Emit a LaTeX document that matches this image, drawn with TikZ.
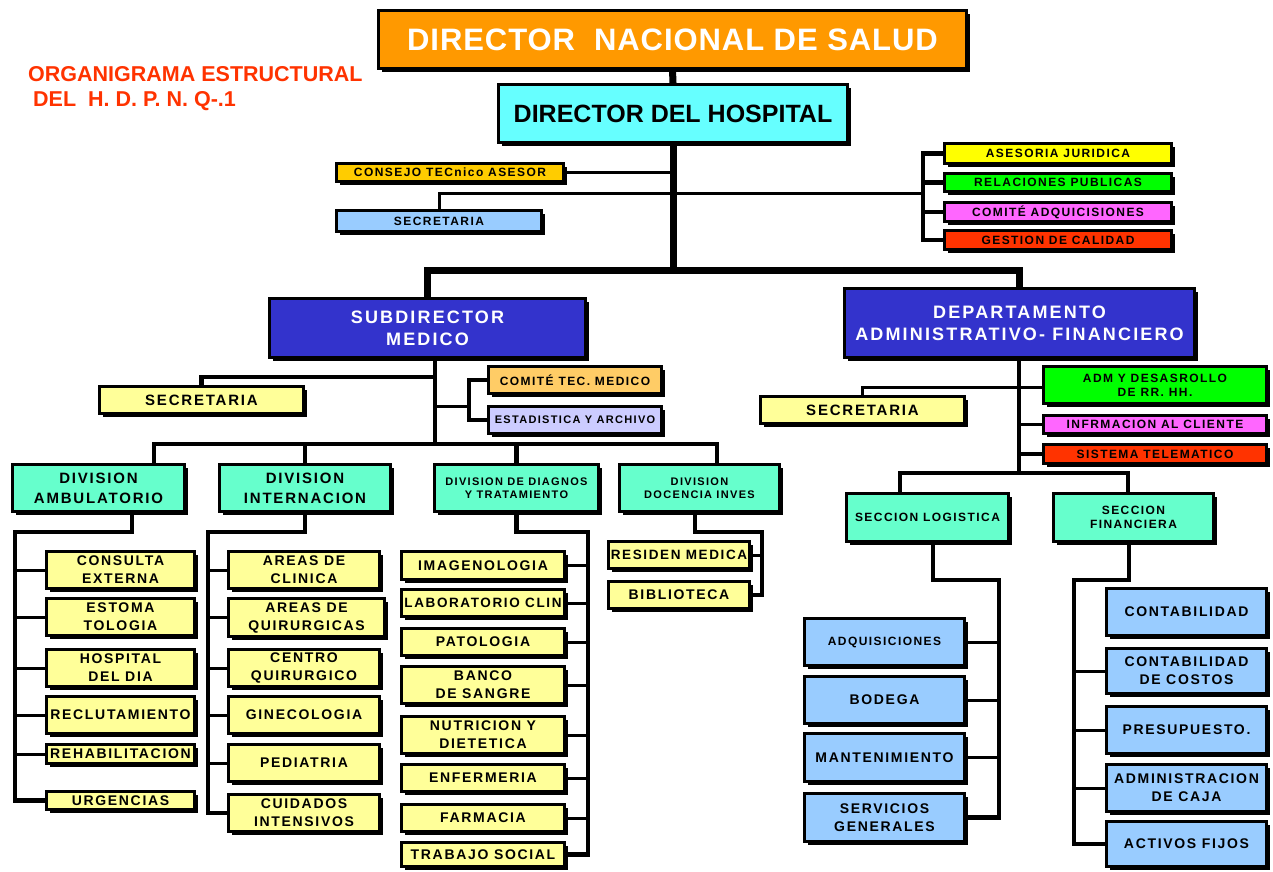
\documentclass[tikz,border=0pt]{standalone}
\usepackage{fontspec}
\setmainfont{Liberation Sans}
\newfontfamily\spf{Liberation Sans}[LetterSpace=12]
\newfontfamily\dnsf{Liberation Sans}[LetterSpace=3]
\usetikzlibrary{shadows}
\definecolor{cOrange}{HTML}{FF9900}
\definecolor{cCyan}{HTML}{66FFFF}
\definecolor{cGold}{HTML}{FFCC00}
\definecolor{cLblue}{HTML}{99CCFF}
\definecolor{cYellow}{HTML}{FFFF00}
\definecolor{cGreen}{HTML}{00FF00}
\definecolor{cMag}{HTML}{FF66FF}
\definecolor{cRed}{HTML}{FF3300}
\definecolor{cBlue}{HTML}{3333CC}
\definecolor{cLyellow}{HTML}{FFFF99}
\definecolor{cLorange}{HTML}{FFCC66}
\definecolor{cLav}{HTML}{CCCCFF}
\definecolor{cMint}{HTML}{66FFCC}
\definecolor{cTitle}{HTML}{FF3300}
\newcommand\sfz[2]{\spf\bfseries\fontsize{#1}{#2}\selectfont}
\newcommand\bx[7]{\node[bx,#6,minimum width={#4-#2-6},minimum height={#5-#3-6}] (#1) at ({(#2+#4)/2-1.5},{(#3+#5)/2-1.5}) {#7};}
\tikzset{
  bx/.style={draw=black, line width=3pt, inner sep=1pt, align=center, text=black,
    drop shadow={shadow xshift=3pt, shadow yshift=-3pt, fill=black, opacity=1}},
  heavy/.style={line width=7pt},
  conn/.style={line width=4.5pt},
  thinc/.style={line width=3pt},
  f11/.style={font=\sfz{11}{13}},
  f12/.style={font=\sfz{12}{14}},
  f14/.style={font=\sfz{14}{18}},
  f15/.style={font=\sfz{15}{20}},
  f18/.style={font=\sfz{18}{22}},
  ylw/.style={fill=cLyellow, f14},
  blu/.style={fill=cLblue, f14},
}
\begin{document}
\begin{tikzpicture}[x=1pt,y=-1pt]
\useasboundingbox[fill=white] (0,0) rectangle (1273,871);

% title
\node[anchor=north west, align=left, text=cTitle, inner sep=0pt,
  font=\bfseries\fontsize{21.5}{26}\selectfont] (title) at (28,66)
  {ORGANIGRAMA ESTRUCTURAL\\[-1pt]\hspace*{5pt}DEL\ \ H. D. P. N. Q-.1};

% top level
\bx{dns}{377}{9}{971}{73}{fill=cOrange, text=white, font=\dnsf\bfseries\fontsize{31}{34}\selectfont}{DIRECTOR\ \ NACIONAL DE SALUD}
\bx{dh}{497}{83}{852}{147}{fill=cCyan, font=\bfseries\fontsize{25}{28}\selectfont}{DIRECTOR DEL HOSPITAL}
\bx{cta}{335}{162}{568}{186}{fill=cGold, f12}{CONSEJO TECnico ASESOR}
\bx{sec1}{335}{209}{546}{236}{fill=cLblue, f12}{SECRETARIA}
\bx{aj}{943}{142}{1176}{168}{fill=cYellow, f12}{ASESORIA JURIDICA}
\bx{rp}{943}{172}{1176}{196}{fill=cGreen, f12}{RELACIONES PUBLICAS}
\bx{ca}{943}{201}{1176}{226}{fill=cMag, f12}{COMITÉ ADQUICISIONES}
\bx{gc}{943}{229}{1176}{254}{fill=cRed, f12}{GESTION DE CALIDAD}

% second level
\bx{sm}{268}{297}{590}{362}{fill=cBlue, text=white, f18}{SUBDIRECTOR\\MEDICO}
\bx{daf}{843}{287}{1199}{362}{fill=cBlue, text=white, f18}{DEPARTAMENTO\\ADMINISTRATIVO- FINANCIERO}

\bx{sec2}{98}{385}{308}{418}{fill=cLyellow, f15}{SECRETARIA}
\bx{ctm}{487}{365}{666}{398}{fill=cLorange, f12}{COMITÉ TEC. MEDICO}
\bx{eya}{487}{405}{666}{438}{fill=cLav, f11}{ESTADISTICA Y ARCHIVO}
\bx{sec3}{759}{395}{969}{428}{fill=cLyellow, f15}{SECRETARIA}
\bx{adm}{1042}{365}{1271}{408}{fill=cGreen, f12}{ADM Y DESASROLLO\\DE RR. HH.}
\bx{ic}{1042}{414}{1271}{438}{fill=cMag, f12}{INFRMACION AL CLIENTE}
\bx{st}{1042}{443}{1271}{468}{fill=cRed, f12}{SISTEMA TELEMATICO}

% divisions
\bx{da}{11}{463}{189}{516}{fill=cMint, f15}{DIVISION\\AMBULATORIO}
\bx{di}{218}{463}{395}{516}{fill=cMint, f15}{DIVISION\\INTERNACION}
\bx{ddt}{433}{463}{603}{516}{fill=cMint, f11}{DIVISION DE DIAGNOS\\Y TRATAMIENTO}
\bx{ddi}{618}{463}{784}{516}{fill=cMint, f11}{DIVISION\\DOCENCIA INVES}
\bx{sl}{845}{492}{1013}{546}{fill=cMint, f12}{SECCION LOGISTICA}
\bx{sf}{1052}{492}{1218}{546}{fill=cMint, f12}{SECCION\\FINANCIERA}

% ambulatorio children
\bx{ce}{45}{550}{199}{593}{ylw}{CONSULTA\\EXTERNA}
\bx{et}{45}{597}{199}{640}{ylw}{ESTOMA\\TOLOGIA}
\bx{hd}{45}{648}{199}{691}{ylw}{HOSPITAL\\DEL DIA}
\bx{re}{45}{695}{199}{738}{ylw}{RECLUTAMIENTO}
\bx{rh}{45}{743}{199}{768}{ylw}{REHABILITACION}
\bx{ur}{45}{790}{199}{814}{ylw}{URGENCIAS}

% internacion children
\bx{ac}{227}{550}{384}{593}{ylw}{AREAS DE\\CLINICA}
\bx{aq}{227}{597}{389}{641}{ylw}{AREAS DE\\QUIRURGICAS}
\bx{cq}{227}{648}{384}{691}{ylw}{CENTRO\\QUIRURGICO}
\bx{gi}{227}{695}{384}{738}{ylw}{GINECOLOGIA}
\bx{pe}{227}{743}{384}{786}{ylw}{PEDIATRIA}
\bx{ci}{227}{793}{384}{836}{ylw}{CUIDADOS\\INTENSIVOS}

% diagnostico children
\bx{im}{400}{550}{569}{584}{ylw}{IMAGENOLOGIA}
\bx{lc}{400}{588}{569}{621}{ylw, font=\sfz{13.5}{16}}{LABORATORIO CLIN}
\bx{pa}{400}{627}{569}{660}{ylw}{PATOLOGIA}
\bx{bs}{400}{665}{569}{708}{ylw}{BANCO\\DE SANGRE}
\bx{nd}{400}{715}{569}{758}{ylw}{NUTRICION Y\\DIETETICA}
\bx{en}{400}{763}{569}{796}{ylw}{ENFERMERIA}
\bx{fa}{400}{803}{569}{836}{ylw}{FARMACIA}
\bx{ts}{400}{841}{569}{871}{ylw}{TRABAJO SOCIAL}

% docencia children
\bx{rm}{607}{540}{754}{573}{ylw, font=\sfz{13.5}{16}}{RESIDEN MEDICA}
\bx{bi}{607}{580}{754}{613}{ylw}{BIBLIOTECA}

% logistica children
\bx{ad}{803}{617}{969}{670}{fill=cLblue, f12}{ADQUISICIONES}
\bx{bo}{803}{675}{969}{728}{blu}{BODEGA}
\bx{ma}{803}{732}{969}{786}{blu}{MANTENIMIENTO}
\bx{sg}{803}{792}{969}{846}{blu}{SERVICIOS\\GENERALES}

% financiera children
\bx{co}{1105}{587}{1271}{640}{blu}{CONTABILIDAD}
\bx{cc}{1105}{647}{1271}{698}{blu}{CONTABILIDAD\\DE COSTOS}
\bx{pr}{1105}{705}{1271}{758}{blu}{PRESUPUESTO.}
\bx{acj}{1105}{763}{1271}{816}{blu}{ADMINISTRACION\\DE CAJA}
\bx{af}{1105}{820}{1271}{871}{blu}{ACTIVOS FIJOS}

% ---------- connectors ----------
\coordinate (t1) at (673,270);
\coordinate (t3) at (673,193);
\coordinate (rb) at (923,193);
\draw[heavy] (dns.south) -- (dh.north);
\draw[heavy] (dh.south) -- (t1);
\draw[heavy] (sm.north) |- (t1) -| (daf.north);
\draw[thinc] (cta.east) -- (cta.east -| t1);
\draw[thinc] (sec1.north) |- (t3);
\draw[thinc] (t3) -- (rb);
\draw[conn] (aj.west) -| (rb) |- (gc.west);
\draw[conn] (rp.west) -- (rp.west -| rb);
\draw[conn] (ca.west) -- (ca.west -| rb);

% subdirector medico
\coordinate (s0) at (435,444);
\coordinate (s1) at (435,377);
\coordinate (s2) at (435,406);
\coordinate (sb) at (469,406);
\coordinate (s3) at (154,444);
\coordinate (s4) at (717,444);
\draw[conn] (sm.south -| s0) -- (s0);
\draw[conn] (sec2.north) |- (s1);
\draw[thinc] (s2) -- (sb);
\draw[conn] (ctm.west) -| (sb) |- (eya.west);
\draw[conn] (s3 |- da.north) -- (s3) -- (s4) -- (s4 |- ddi.north);
\draw[conn] (di.north) -- (di.north |- s0);
\draw[conn] (ddt.north) -- (ddt.north |- s0);

% ambulatorio
\coordinate (a1) at (132,532);
\coordinate (a2) at (15,532);
\draw[conn] (da.south -| a1) -- (a1) -- (a2) |- (ur.west);
\foreach \n in {ce,et,hd,re,rh} \draw[thinc] (\n.west) -- (\n.west -| a2);

% internacion
\coordinate (i2) at (208,532);
\draw[conn] (di.south) |- (i2) |- (ci.west);
\foreach \n in {ac,aq,cq,gi,pe} \draw[thinc] (\n.west) -- (\n.west -| i2);

% diagnostico
\coordinate (g1) at (588,532);
\draw[conn] (ddt.south) |- (g1) |- (ts.east);
\foreach \n in {im,lc,pa,bs,nd,en,fa} \draw[thinc] (\n.east) -- (\n.east -| g1);

% docencia
\coordinate (h1) at (695,532);
\coordinate (h2) at (762,532);
\draw[conn] (ddi.south -| h1) -- (h1) -- (h2) |- (bi.east);
\draw[thinc] (rm.east) -- (rm.east -| h2);

% departamento administrativo
\coordinate (d0) at (1019,473);
\coordinate (d1) at (1019,387);
\coordinate (d2) at (900,473);
\coordinate (d3) at (1128,473);
\draw[conn] (daf.south -| d0) -- (d0);
\draw[thinc] (sec3.north) |- (d1) -- (d1 -| adm.west);
\draw[thinc] (ic.west) -- (ic.west -| d0);
\draw[conn] (st.west) -- (st.west -| d0);
\draw[conn] (d2 |- sl.north) -- (d2) -- (d3) -- (d3 |- sf.north);

% logistica
\coordinate (l1) at (933,580);
\coordinate (l2) at (999,580);
\draw[conn] (sl.south -| l1) -- (l1) -- (l2) |- (sg.east);
\foreach \n in {ad,bo,ma} \draw[thinc] (\n.east) -- (\n.east -| l2);

% financiera
\coordinate (f1) at (1129,580);
\coordinate (f2) at (1074,580);
\draw[conn] (sf.south -| f1) -- (f1) -- (f2) |- (af.west);
\foreach \n in {cc,pr,acj} \draw[thinc] (\n.west) -- (\n.west -| f2);
\end{tikzpicture}
\end{document}
